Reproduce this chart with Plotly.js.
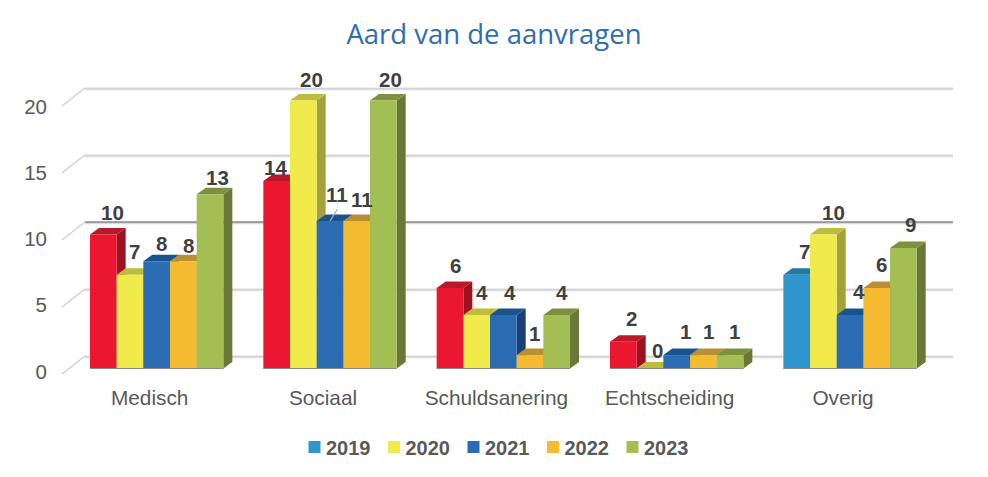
<!DOCTYPE html>
<html>
<head>
<meta charset="utf-8">
<script src="https://cdn.plot.ly/plotly-3.0.1.min.js"></script>
<style>html,body{margin:0;padding:0;background:#fff}</style>
</head>
<body>
<div id="chart" style="width:988px;height:477px"></div>
<script>
// ---- data ----
var categories = ["Medisch", "Sociaal", "Schuldsanering", "Echtscheiding", "Overig"];
var years = ["2019", "2020", "2021", "2022", "2023"];
var values2019 = [10, 14, 6, 2, 7];
var values2020 = [7, 20, 4, 0, 10];
var values2021 = [8, 11, 4, 1, 4];
var values2022 = [8, 11, 1, 1, 6];
var values2023 = [13, 20, 4, 1, 9];
var yTicks = [0, 5, 10, 15, 20];

// ---- per-point label nudges (px), series by series ----
var labelDx = [[8.7, -1, 5, 7.7, 7.4], [5, 7.7, 5, 7, 10], [5, 6.7, 6.6, 9, 9], [5, 5, 4.3, 5, 5], [7.7, 6.7, 5, 4.3, 6.7]];
var labelDy = [[22.5, 13, 23, 23.4, 23], [23, 21.5, 22.6, 18.5, 22.2], [18.3, 27, 22.6, 23.4, 23.6], [15.6, 22, 21.8, 23.4, 23.4], [17, 21.5, 22.6, 23.4, 23.2]];

// ---- styles ----
var frontColors = ["#EB1730", "#F0EB4B", "#2B6CB3", "#F4BA30", "#A3BE53"];
var topColors = ["#B81A2B", "#BDBD3B", "#18538F", "#B98F33", "#7C9040"];
var sideColors = ["#9A1420", "#A2A13B", "#1B3F75", "#9A7A25", "#687838"];
var overigFront = "#2E96CC", overigTop = "#1F7AA5", overigSide = "#1A6288";
var allSeries = [values2019, values2020, values2021, values2022, values2023];

// ---- plot geometry ----
var pxPerCat = 173.4, pxPerUnit = 13.4;
var bargap = 40 / 173.4;
var barW = (1 - bargap) / 5;
var depthX = 9 / pxPerCat, depthY = 6.5 / pxPerUnit;
var wallDy = 12.5 / pxPerUnit;
var xRange = [-0.5 - 20 / pxPerCat, 4.5 + 23.3 / pxPerCat];
var yRange = [-7.5 / pxPerUnit, 298.5 / pxPerUnit];
// the front edge of the floor carries the scale labels, slightly lower and tighter than the bars
var frontScale = 13.25;
var frontRange = [-4.5 / frontScale, 301.5 / frontScale];
var idx = categories.map(function (_, i) { return i; });

var shapes = [];
// back wall gridlines with their left stubs
var wallLeft = -0.5 + 15 / pxPerCat, wallRight = 4.5 + 16.3 / pxPerCat, stubLeft = -0.5 - 8 / pxPerCat;
yTicks.forEach(function (t) {
  var yBack = t + wallDy, yFront = t - 18 / pxPerUnit + wallDy;
  shapes.push({type: "line", layer: "below", xref: "x", yref: "y", x0: wallLeft, x1: wallRight, y0: yBack - 0.09, y1: yBack - 0.09,
    line: {color: "#DCDCDC", width: 2.2}});
  shapes.push({type: "line", layer: "below", xref: "x", yref: "y", x0: wallLeft, x1: wallRight, y0: yBack, y1: yBack,
    line: {color: t === 10 ? "#555555" : "#C4C4C4", width: t === 10 ? 1 : 0.6}});
  shapes.push({type: "line", layer: "below", xref: "x", yref: "y", x0: stubLeft, x1: wallLeft, y0: yFront, y1: yBack,
    line: {color: "#CFCFCF", width: 1.4}});
});

// top and side faces, left to right so that each bar overlaps its left neighbour
function poly(pts, color) {
  return {type: "path", layer: "between", xref: "x", yref: "y",
    path: "M" + pts.map(function (p) { return p[0] + "," + p[1]; }).join("L") + "Z",
    fillcolor: color, line: {width: 0}};
}
categories.forEach(function (_, c) {
  allSeries.forEach(function (series, s) {
    var v = series[c];
    var x0 = c - 2.5 * barW + s * barW, x1 = x0 + barW;
    var special = c === 4 && s === 0;
    shapes.push(poly([[x1, 0], [x1 + depthX, depthY], [x1 + depthX, v + depthY], [x1, v]], special ? overigSide : sideColors[s]));
    shapes.push(poly([[x0, v], [x1, v], [x1 + depthX, v + depthY], [x0 + depthX, v + depthY]], special ? overigTop : topColors[s]));
  });
  // base edge
  shapes.push({type: "line", layer: "above", xref: "x", yref: "y", x0: c - 2.5 * barW, x1: c + 2.5 * barW, y0: 0, y1: 0,
    line: {color: "#8A8A8A", width: 1.2}});
});
// leader of the first "11" label in Sociaal
shapes.push({type: "line", layer: "above", xref: "x", yref: "y",
  x0: 1, x1: 1 + 7.3 / pxPerCat, y0: values2021[1], y1: values2021[1] + 11.8 / pxPerUnit,
  line: {color: "#A6A6A6", width: 1.2}});

// value labels
var annotations = [];
allSeries.forEach(function (series, s) {
  series.forEach(function (v, c) {
    annotations.push({
      x: c - 2.5 * barW + (s + 0.5) * barW, y: v, xref: "x", yref: "y",
      text: String(v), showarrow: false, xanchor: "center", yanchor: "middle",
      xshift: labelDx[s][c], yshift: labelDy[s][c],
      font: {family: "Liberation Sans, Arial, sans-serif", size: 20.5, color: "#404040", weight: 700}
    });
  });
});

// bars (front faces); the first entry supplies the blue 2019 legend swatch and holds the label axis
var traces = [{
  type: "scatter", mode: "markers", x: [null], y: [null], yaxis: "y2", name: years[0],
  marker: {symbol: "square", size: 12, color: overigFront, line: {width: 0}}, hoverinfo: "skip"
}];
allSeries.forEach(function (series, s) {
  traces.push({
    type: "bar", x: idx, y: series, name: years[s],
    showlegend: s !== 0,
    marker: {
      color: s === 0 ? categories.map(function (_, c) { return c === 4 ? overigFront : frontColors[0]; }) : frontColors[s],
      line: {width: 0}
    }
  });
});

var layout = {
  width: 988, height: 477, autosize: false,
  margin: {l: 50, r: 28, t: 70, b: 101, pad: 0},
  paper_bgcolor: "#fff", plot_bgcolor: "rgba(0,0,0,0)",
  font: {family: "Liberation Sans, Arial, sans-serif", color: "#595959", size: 20},
  title: {text: "Aard van de aanvragen", x: 0.5, xanchor: "center", y: 0.927, yanchor: "middle",
    font: {family: "Open Sans, sans-serif", size: 27.5, color: "#2E6DB4"}},
  barmode: "group", bargap: bargap, bargroupgap: 0,
  showlegend: true,
  legend: {orientation: "h", xref: "container", yref: "container", x: 286 / 988, xanchor: "left", y: 30 / 477, yanchor: "middle",
    entrywidth: 34.5, entrywidthmode: "pixels", bgcolor: "rgba(0,0,0,0)",
    font: {family: "Liberation Sans, Arial, sans-serif", size: 20, color: "#595959", weight: 700}},
  xaxis: {type: "linear", range: xRange, tickmode: "array", tickvals: idx, ticktext: categories,
    showgrid: false, zeroline: false, showline: false, ticks: "", ticklabelshift: -7, ticklabelstandoff: 7,
    fixedrange: true, tickfont: {size: 20.8, color: "#595959"}},
  yaxis: {range: yRange, showticklabels: false, showgrid: false, zeroline: false, showline: false, ticks: "", fixedrange: true},
  yaxis2: {overlaying: "y", side: "left", range: frontRange, tickmode: "array", tickvals: yTicks, ticktext: yTicks.map(String),
    showgrid: false, zeroline: false, showline: false, ticks: "", ticklabelstandoff: 2,
    fixedrange: true, tickfont: {size: 20.5, color: "#595959"}},
  shapes: shapes,
  annotations: annotations
};

Plotly.newPlot("chart", traces, layout, {displayModeBar: false, responsive: false}).then(function () {
  // pull the legend swatches closer to their labels and let the last label overflow its narrow entry
  document.querySelectorAll("#chart .legend .traces .legendsymbols").forEach(function (n) {
    n.setAttribute("transform", "translate(8.5,0)");
  });
  document.querySelectorAll("#chart .legend .scrollbox").forEach(function (n) {
    n.removeAttribute("clip-path");
  });
  document.querySelectorAll("#chart .legend").forEach(function (n) {
    n.removeAttribute("clip-path");
    n.style.overflow = "visible";
  });
});
</script>
</body>
</html>
